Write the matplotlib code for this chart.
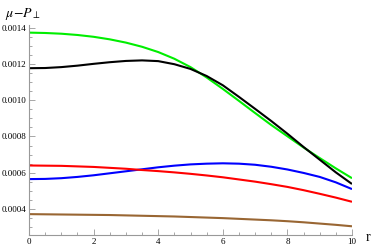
import matplotlib
matplotlib.use('Agg')
import matplotlib.pyplot as plt
from matplotlib.ticker import MultipleLocator, FormatStrFormatter

# radial coordinate
r = [0, 0.5, 1, 1.5, 2, 2.5, 3, 3.5, 4, 4.5, 5, 5.5, 6, 6.5, 7, 7.5, 8, 8.5, 9, 9.5, 10]

green = [0.001372, 0.001370, 0.001366, 0.001359, 0.001349, 0.001335, 0.001317, 0.001294,
         0.001265, 0.001228, 0.001182, 0.001125, 0.001062, 0.000996, 0.000929, 0.000863,
         0.000801, 0.000739, 0.000681, 0.000624, 0.000570]
black = [0.001176, 0.001177, 0.001182, 0.001190, 0.001200, 0.001209, 0.001216, 0.001219,
         0.001215, 0.001198, 0.001172, 0.001133, 0.001082, 0.001018, 0.000952, 0.000885,
         0.000815, 0.000742, 0.000672, 0.000602, 0.000538]
blue = [0.000565, 0.000566, 0.000570, 0.000577, 0.000586, 0.000597, 0.000608, 0.000619,
        0.000630, 0.000639, 0.000646, 0.000650, 0.000652, 0.000650, 0.000644, 0.000633,
        0.000618, 0.000599, 0.000577, 0.000547, 0.000510]
red = [0.000640, 0.000639, 0.000638, 0.000635, 0.000632, 0.000627, 0.000622, 0.000615,
       0.000609, 0.000602, 0.000594, 0.000585, 0.000575, 0.000563, 0.000551, 0.000537,
       0.000522, 0.000504, 0.000484, 0.000463, 0.000440]
brown = [0.000372, 0.000371, 0.000370, 0.000369, 0.000368, 0.000367, 0.000365, 0.000363,
         0.000361, 0.000359, 0.000356, 0.000353, 0.000350, 0.000346, 0.000342, 0.000338,
         0.000333, 0.000327, 0.000320, 0.000313, 0.000305]

series = [(green, '#00ee00'), (black, 'black'), (blue, '#0000ff'),
          (red, '#ff0000'), (brown, '#996633')]

plt.rcParams['mathtext.fontset'] = 'stix'
plt.rcParams['font.family'] = 'Liberation Serif'

fig = plt.figure(figsize=(3.74, 2.49), dpi=100)
ax = fig.add_axes([29 / 374, 1 - 235 / 249, 323 / 374, 210 / 249])

for ys, c in series:
    ax.plot(r, ys, color=c, lw=1.5, solid_capstyle='butt', solid_joinstyle='round')

ax.set_xlim(0, 10)
ax.set_ylim(0.000257, 0.001414)

axis_gray = '#999999'
for s in ['top', 'right']:
    ax.spines[s].set_visible(False)
for s in ['left', 'bottom']:
    ax.spines[s].set_color(axis_gray)
    ax.spines[s].set_linewidth(0.8)

ax.xaxis.set_major_locator(MultipleLocator(2))
ax.xaxis.set_minor_locator(MultipleLocator(0.5))
ax.yaxis.set_major_locator(MultipleLocator(0.0002))
ax.yaxis.set_minor_locator(MultipleLocator(0.00005))
ax.yaxis.set_major_formatter(FormatStrFormatter('%.4f'))

ax.tick_params(which='both', direction='in', color=axis_gray, labelsize=6.5, width=0.6)
ax.tick_params(which='major', length=4, pad=2)
ax.tick_params(which='minor', length=2)

fig.text(5 / 374, 1 - 14 / 249, r'$\mu\!-\!P_\perp$', fontsize=10, va='center', ha='left')
fig.text(366 / 374, 1 - 237 / 249, 'r', fontsize=10, va='center', ha='left')

fig.savefig('out.png', dpi=100)
